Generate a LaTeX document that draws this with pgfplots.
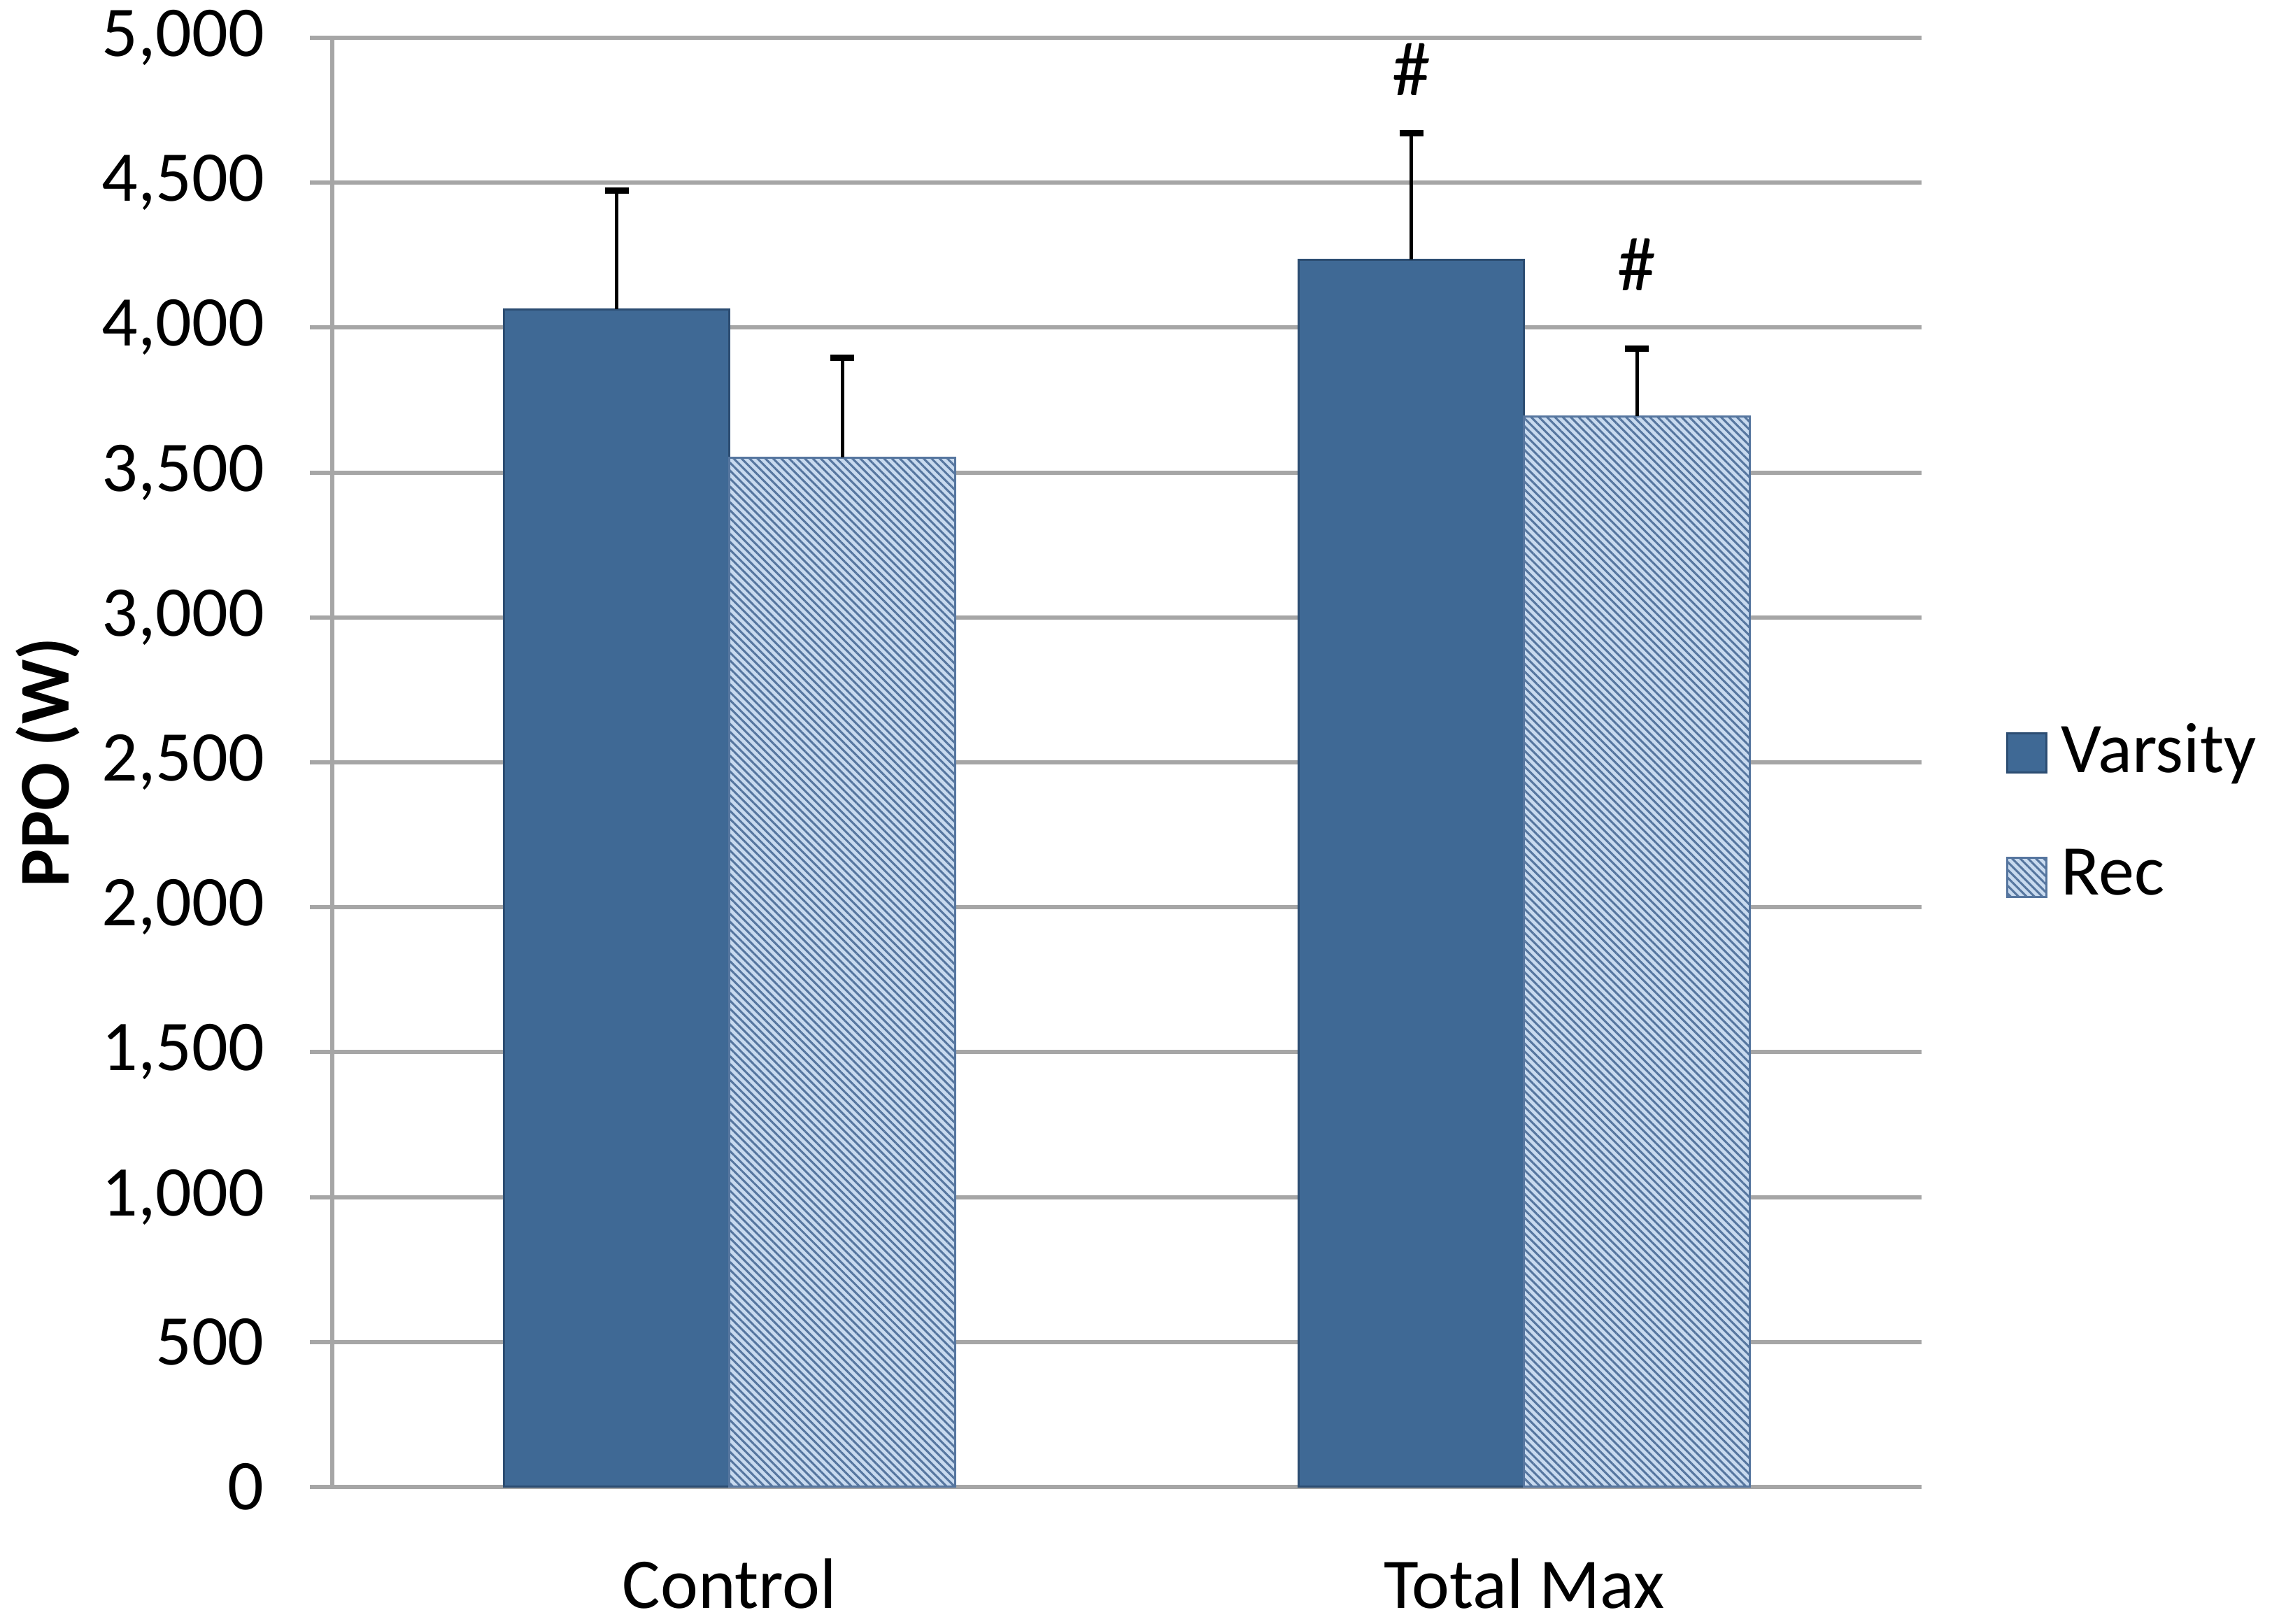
\documentclass[border=0pt]{standalone}
\usepackage{pgfplots}
\pgfplotsset{compat=1.18}
\usetikzlibrary{patterns.meta}
\usepackage{fontspec}
\setmainfont{Carlito}
\definecolor{varsity}{HTML}{3F6995}
\definecolor{varsityedge}{HTML}{2C4D72}
\definecolor{recfill}{HTML}{C8DAEF}
\definecolor{recline}{HTML}{56769F}
\definecolor{gridgray}{HTML}{A6A6A6}
\begin{document}
\begin{tikzpicture}
\useasboundingbox (-47.5pt,-19.6pt) rectangle (279.3pt,212.6pt);
\begin{axis}[
  at={(0,0)}, anchor=south west,
  scale only axis, width=227.2pt, height=207.2pt,
  xmin=-0.5, xmax=1.5, ymin=0, ymax=5000,
  clip=false,
  axis x line*=bottom, axis y line*=left,
  axis line style={gridgray, line width=0.6pt},
  ymajorgrids, grid style={gridgray, line width=0.6pt},
  ytick={0,500,...,5000},
  xtick={0,1}, xticklabels={Control, Total Max},
  major x tick style={draw=none},
  extra x ticks={-0.5,0.5,1.5}, extra x tick labels={},
  extra x tick style={major tick length=3.8pt, tick style={gridgray, line width=0.6pt}},
  tick align=outside, major tick length=3.2pt,
  tick style={gridgray, line width=0.6pt},
  /pgf/number format/assume math mode=true,
  /pgf/number format/1000 sep={,},
  yticklabel style={font=\fontsize{10.2}{12}\selectfont, xshift=-3pt},
  xticklabel style={font=\fontsize{10.2}{12}\selectfont, yshift=-3.5pt},
  legend style={at={(rel axis cs:1,0.464)}, anchor=west, xshift=11.9pt,
    draw=none, fill=none, font=\fontsize{10.2}{12}\selectfont,
    row sep=5.5pt, inner sep=0pt},
  legend cell align=left,
  legend image code/.code={\path[#1] (0pt,-2.8pt) rectangle (5.6pt,2.8pt);},
]
\addplot[ybar, bar width=0.284, bar shift=0, fill=varsity, draw=varsityedge, line width=0.3pt,
  error bars/.cd, y dir=plus, y explicit,
  error bar style={black, line width=0.45pt},
  error mark options={rotate=90, mark size=1.7pt, line width=0.9pt, black}]
  coordinates {(-0.142,4063) +- (0,410) (0.858,4234) +- (0,436)};
\addlegendentry{Varsity}
\addplot[ybar, bar width=0.284, bar shift=0, fill=recfill, draw=recline, line width=0.3pt,
  postaction={pattern={Lines[angle=-45, distance=0.8pt, line width=0.3pt]}, pattern color=recline},
  error bars/.cd, y dir=plus, y explicit,
  error bar style={black, line width=0.45pt},
  error mark options={rotate=90, mark size=1.7pt, line width=0.9pt, black}]
  coordinates {(0.142,3552) +- (0,343) (1.142,3694) +- (0,234)};
\addlegendentry{Rec}
\node[font=\fontsize{11}{12}\selectfont] at (axis cs:0.858,4891) {\#};
\node[font=\fontsize{11}{12}\selectfont] at (axis cs:1.142,4216) {\#};
\end{axis}
\node[rotate=90, font=\bfseries\fontsize{10.2}{12}\selectfont] at (-40.7pt,103.6pt) {PPO (W)};
\end{tikzpicture}
\end{document}
